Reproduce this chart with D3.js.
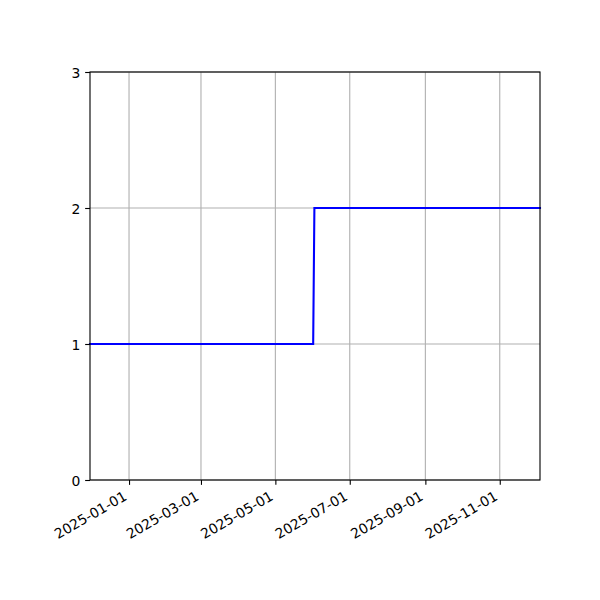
<!DOCTYPE html>
<html><head><meta charset="utf-8">
<script src="https://cdn.jsdelivr.net/npm/d3@7"></script>
<style>body{margin:0;background:#fff}svg{display:block}</style>
</head><body>
<script>
const dates = ["2024-11-30","2025-06-01","2025-06-02","2025-12-04"];
const values = [1,1,2,2];
const xTicks = ["2025-01-01","2025-03-01","2025-05-01","2025-07-01","2025-09-01","2025-11-01"];
const yTicks = [0,1,2,3];

const parse = d3.utcParse("%Y-%m-%d");
const data = dates.map((d,i)=>({date:parse(d), value:values[i]}));
const W=600,H=600, L=90, R=540, T=72, B=480;
const svg = d3.select("body").append("svg").attr("width",W).attr("height",H);
const x = d3.scaleUtc().domain([parse(dates[0]), parse(dates[dates.length-1])]).range([L,R]);
const y = d3.scaleLinear().domain([0,3]).range([B,T]);
const font = "DejaVu Sans";

// grid
svg.append("g").selectAll("line").data(xTicks).join("line")
  .attr("x1",d=>x(parse(d))).attr("x2",d=>x(parse(d))).attr("y1",T).attr("y2",B)
  .attr("stroke","#b0b0b0").attr("stroke-width",0.8*100/72);
svg.append("g").selectAll("line").data(yTicks).join("line")
  .attr("y1",d=>y(d)).attr("y2",d=>y(d)).attr("x1",L).attr("x2",R)
  .attr("stroke","#b0b0b0").attr("stroke-width",0.8*100/72);

// line
svg.append("path").datum(data)
  .attr("d", d3.line().x(d=>x(d.date)).y(d=>y(d.value)))
  .attr("fill","none").attr("stroke","#0000ff").attr("stroke-width",1.5*100/72)
  .attr("stroke-linejoin","miter").attr("stroke-linecap","square");

// frame
svg.append("rect").attr("x",L).attr("y",T).attr("width",R-L).attr("height",B-T)
  .attr("fill","none").attr("stroke","#000").attr("stroke-width",0.8*100/72);

// x axis
const xAxis = d3.axisBottom(x).tickValues(xTicks.map(parse)).tickSize(4.86).tickPadding(4.86)
  .tickFormat(d3.utcFormat("%Y-%m-%d"));
const gx = svg.append("g").attr("transform",`translate(0,${B})`).call(xAxis);
gx.select(".domain").remove();
gx.selectAll(".tick line").attr("stroke","#000").attr("stroke-width",0.8*100/72);
gx.selectAll(".tick text")
  .attr("font-family",font).attr("font-size",13.9).attr("fill","#000")
  .attr("text-anchor","end").attr("y",0).attr("dy",0)
  .attr("transform","translate(-1.6,19) rotate(-30)");

// y axis
const yAxis = d3.axisLeft(y).tickValues(yTicks).tickSize(4.86).tickPadding(4.86).tickFormat(d3.format("d"));
const gy = svg.append("g").attr("transform",`translate(${L},0)`).call(yAxis);
gy.select(".domain").remove();
gy.selectAll(".tick line").attr("stroke","#000").attr("stroke-width",0.8*100/72);
gy.selectAll(".tick text").attr("font-family",font).attr("font-size",13.9).attr("fill","#000")
  .attr("dy","0.36em");
</script>
</body></html>
